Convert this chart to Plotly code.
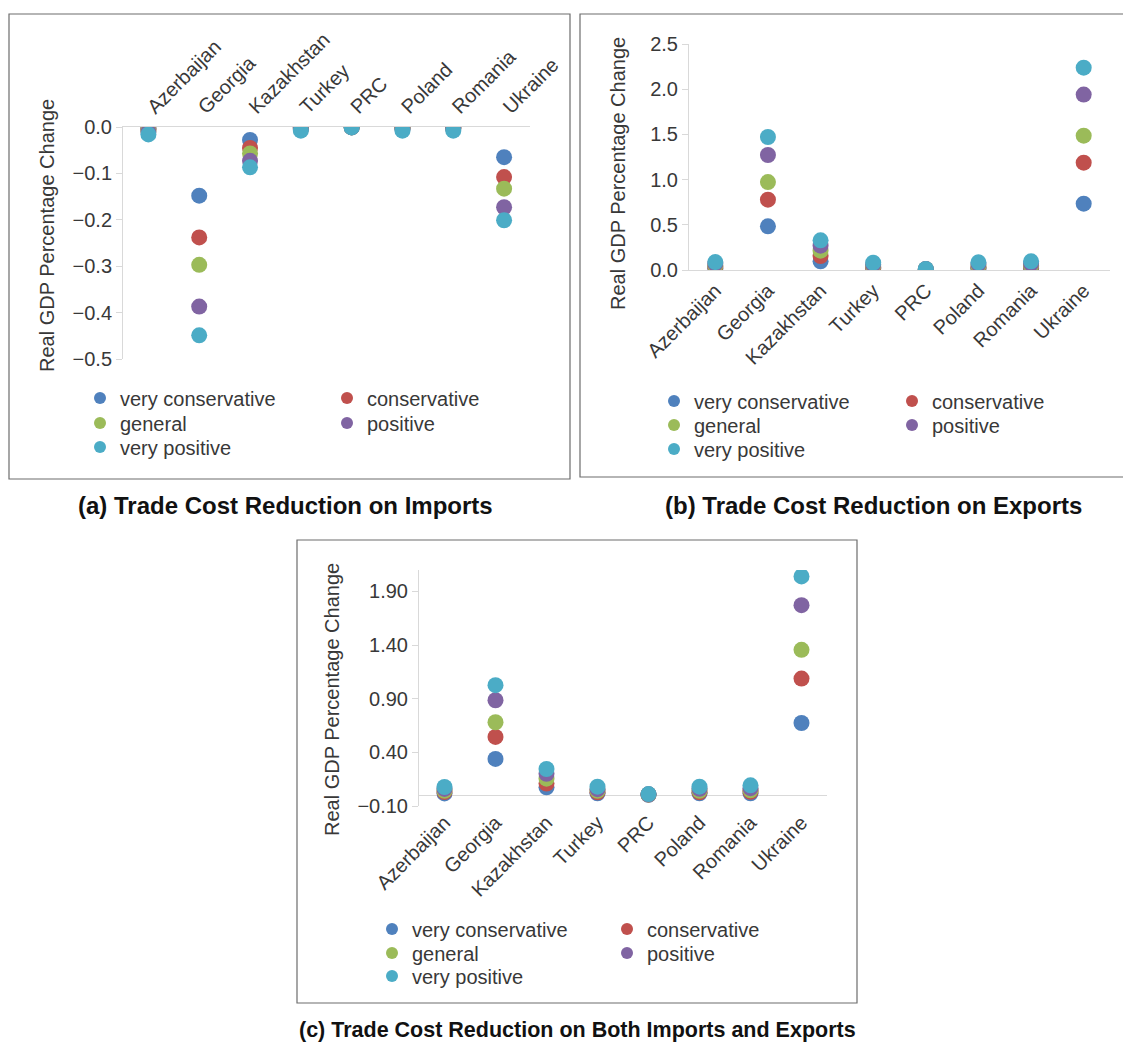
import plotly.graph_objects as go

# ---------------- data ----------------
countries = ["Azerbaijan", "Georgia", "Kazakhstan", "Turkey", "PRC", "Poland", "Romania", "Ukraine"]
scenarios = ["very conservative", "conservative", "general", "positive", "very positive"]
colors = ["#4F81BD", "#C0504D", "#9BBB59", "#8064A2", "#4BACC6"]

# (a) Trade cost reduction on imports
imp_very_conservative = [-0.003, -0.148, -0.028, -0.001, 0.000, -0.001, -0.001, -0.065]
imp_conservative      = [-0.005, -0.238, -0.045, -0.002, 0.000, -0.002, -0.002, -0.108]
imp_general           = [-0.008, -0.297, -0.057, -0.003, -0.001, -0.003, -0.003, -0.133]
imp_positive          = [-0.011, -0.387, -0.073, -0.005, -0.001, -0.005, -0.004, -0.173]
imp_very_positive     = [-0.016, -0.449, -0.087, -0.008, -0.001, -0.008, -0.008, -0.201]

# (b) Trade cost reduction on exports
exp_very_conservative = [0.020, 0.483, 0.096, 0.020, 0.005, 0.020, 0.020, 0.734]
exp_conservative      = [0.035, 0.778, 0.155, 0.030, 0.007, 0.030, 0.035, 1.187]
exp_general           = [0.050, 0.973, 0.214, 0.045, 0.009, 0.045, 0.050, 1.486]
exp_positive          = [0.070, 1.272, 0.269, 0.062, 0.010, 0.065, 0.070, 1.940]
exp_very_positive     = [0.088, 1.471, 0.328, 0.081, 0.012, 0.085, 0.096, 2.238]

# (c) Trade cost reduction on both imports and exports
both_very_conservative = [0.017, 0.339, 0.074, 0.018, 0.005, 0.018, 0.019, 0.674]
both_conservative      = [0.030, 0.544, 0.110, 0.028, 0.007, 0.028, 0.033, 1.088]
both_general           = [0.042, 0.681, 0.155, 0.042, 0.008, 0.042, 0.047, 1.356]
both_positive          = [0.059, 0.886, 0.200, 0.057, 0.009, 0.060, 0.066, 1.772]
both_very_positive     = [0.077, 1.026, 0.245, 0.080, 0.011, 0.080, 0.093, 2.040]

ticks_c = [-0.10, 0.40, 0.90, 1.40, 1.90]

captions = ["(a) Trade Cost Reduction on Imports",
            "(b) Trade Cost Reduction on Exports",
            "(c) Trade Cost Reduction on Both Imports and Exports"]
caption_sizes = [24, 24, 21.5]
ytitle = "Real GDP Percentage Change"

panels = [
    [imp_very_conservative, imp_conservative, imp_general, imp_positive, imp_very_positive],
    [exp_very_conservative, exp_conservative, exp_general, exp_positive, exp_very_positive],
    [both_very_conservative, both_conservative, both_general, both_positive, both_very_positive],
]

# ---------------- layout helpers ----------------
OFF = 8                      # page body margin of the browser
W, H = 1131 - OFF, 1044 - OFF
FONT = "Liberation Sans, Arial, sans-serif"
TXT = "#383838"
AX = "#d9d9d9"
FS = 20

def px(x):
    return (x - OFF) / W

def py(y):
    return 1 - (y - OFF) / H

fig = go.Figure()

axes = [("x", "y"), ("x2", "y2"), ("x3", "y3")]

# legend placement per panel: (text x of column1, text x of column2, row centers)
leg_pos = [
    (119, 366, [398, 423, 447]),
    (693, 931, [401, 425, 449]),
    (411, 646, [929, 953, 976]),
]

legend_layouts = {}
k = 0
for p, series in enumerate(panels):
    xa, ya = axes[p]
    c1, c2, rows = leg_pos[p]
    for s, vals in enumerate(series):
        k += 1
        lname = "legend" if k == 1 else f"legend{k}"
        fig.add_trace(go.Scatter(
            x=countries, y=vals, mode="markers", name=scenarios[s],
            marker=dict(color=colors[s], size=16, line=dict(width=0)),
            xaxis=xa, yaxis=ya, legend=lname, showlegend=True,
            hoverinfo="x+y+name",
        ))
        tx = c1 if s % 2 == 0 else c2
        ty = rows[s // 2]
        legend_layouts[lname] = dict(
            x=px(tx - 39), y=py(ty), xanchor="left", yanchor="middle",
            bgcolor="rgba(0,0,0,0)", borderwidth=0, itemsizing="constant",
            font=dict(family=FONT, size=FS, color=TXT),
        )

tickfont = dict(family=FONT, size=FS, color=TXT)

common_y = dict(showline=True, linecolor=AX, linewidth=1, ticks="outside",
                ticklen=6, tickcolor=AX, showgrid=False, tickfont=tickfont,
                automargin=False, zeroline=False)
common_x = dict(type="category", tickangle=-45, showgrid=False, ticks="",
                tickfont=tickfont, automargin=False, range=[-0.5, 7.5])

fig.update_layout(
    width=W, height=H, template="none",
    paper_bgcolor="white", plot_bgcolor="rgba(0,0,0,0)",
    margin=dict(l=0, r=0, t=0, b=0),
    font=dict(family=FONT, color=TXT),
    # (a)
    xaxis=dict(domain=[px(123), px(529.5)], anchor="y", side="top",
               showline=True, linecolor=AX, **common_x),
    yaxis=dict(domain=[py(359), py(127)], anchor="x", range=[-0.5, 0],
               dtick=0.1, tickformat=".1f", **common_y),
    # (b)
    xaxis2=dict(domain=[px(689), px(1110)], anchor="y2", side="bottom",
                showline=True, linecolor=AX, **common_x),
    yaxis2=dict(domain=[py(270), py(44)], anchor="x2", range=[0, 2.5],
                dtick=0.5, tickformat=".1f", **common_y),
    # (c)
    xaxis3=dict(domain=[px(419), px(827)], anchor="y3", side="bottom",
                showline=False, **common_x),
    yaxis3=dict(domain=[py(806), py(570)], anchor="x3", range=[-0.1, 2.1],
                tickmode="array", tickvals=ticks_c, tickformat=".2f",
                **{**common_y, "zeroline": True, "zerolinecolor": AX, "zerolinewidth": 1}),
    **legend_layouts,
)

# panel frames
frames = [(9, 14, 570, 479), (580, 14, 1128, 477), (297, 540, 857, 1003)]
for (x0, y0, x1, y1) in frames:
    fig.add_shape(type="rect", xref="paper", yref="paper",
                  x0=px(x0), x1=px(x1), y0=py(y1), y1=py(y0),
                  line=dict(color="#6d6d6d", width=1.2), fillcolor="rgba(0,0,0,0)",
                  layer="below")

# y-axis titles
for (tx, ty) in [(47, 236), (618, 174), (332, 700)]:
    fig.add_annotation(text=ytitle, xref="paper", yref="paper", x=px(tx), y=py(ty),
                       textangle=-90, showarrow=False, xanchor="center", yanchor="middle",
                       font=dict(family=FONT, size=FS, color=TXT))

# captions
for cap, fs, (cx, cy) in zip(captions, caption_sizes, [(285, 505), (873, 505), (577, 1030)]):
    fig.add_annotation(text="<b>" + cap + "</b>", xref="paper", yref="paper",
                       x=px(cx), y=py(cy), showarrow=False, xanchor="center", yanchor="middle",
                       font=dict(family=FONT, size=fs, color="#111111"))

fig.write_html("out.html")
